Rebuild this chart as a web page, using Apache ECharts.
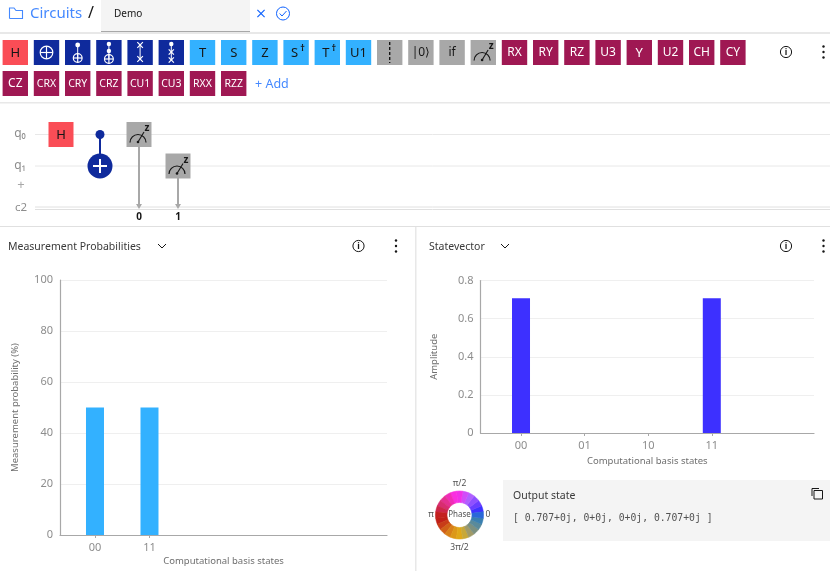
<!DOCTYPE html>
<html>
<head>
<meta charset="utf-8">
<style>
  html, body { margin: 0; padding: 0; background: #fff; }
  #chart { width: 830px; height: 571px; }
</style>
<script src="https://cdn.jsdelivr.net/npm/echarts@6/dist/echarts.min.js"></script>
</head>
<body>
<div id="chart"></div>
<script>
// chart values
const probStates = ['00', '11'];
const probIndex = [0, 1];
const probValues = [50, 50];
const ampStates = ['00', '01', '10', '11'];
const ampIndex = [0, 1, 2, 3];
const ampValues = [0.707, 0, 0, 0.707];
const outputState = '[ 0.707+0j, 0+0j, 0+0j, 0.707+0j ]';

// toolbar gates, text ones are drawn as labels, the rest get a glyph below
const row1Gates = ['H', 'cx', 'ccx', 'c3x', 'swap', 'cswap', 'T', 'S', 'Z', 'S†', 'T†', 'U1', 'barrier', '|0⟩', 'if', 'measure', 'RX', 'RY', 'RZ', 'U3', 'Y', 'U2', 'CH', 'CY'];
const row2Gates = ['CZ', 'CRX', 'CRY', 'CRZ', 'CU1', 'CU3', 'RXX', 'RZZ'];
const redGates = ['H'];
const blueGates = ['cx', 'ccx', 'c3x', 'swap', 'cswap'];
const cyanGates = ['T', 'S', 'Z', 'S†', 'T†', 'U1'];
const grayGates = ['barrier', '|0⟩', 'if', 'measure'];

// phase wheel colours, counter clockwise from phase 0
const phaseColors = ['#3d33ff', '#6a3dff', '#8f50ff', '#b060ff', '#d04cf8', '#f030e8', '#fa2ee0', '#f02cb8', '#e43090', '#d82c70', '#cc2648', '#c42020',
  '#c02018', '#c83c18', '#d06018', '#d88018', '#dc9818', '#e0a818', '#c8a838', '#a09a68', '#7c9080', '#5a8a9a', '#3a80b0', '#2a68d8'];

const font = '"Noto Sans", sans-serif';
const RED = '#fa4d56', BLUE = '#0f2a9c', CYAN = '#33b1ff', GRAY = '#a8a8a8', MAGENTA = '#9f1853', LINK = '#4589ff';

function rect (x, y, w, h, fill) {
  return { type: 'rect', shape: { x, y, width: w, height: h }, style: { fill } };
}
function line (x1, y1, x2, y2, stroke, lineWidth) {
  return { type: 'line', shape: { x1, y1, x2, y2 }, style: { stroke, lineWidth: lineWidth || 1 } };
}
function dot (cx, cy, r, fill) {
  return { type: 'circle', shape: { cx, cy, r }, style: { fill } };
}
function ring (cx, cy, r, stroke, lineWidth) {
  return { type: 'circle', shape: { cx, cy, r }, style: { fill: 'none', stroke, lineWidth: lineWidth || 1 } };
}
function label (x, y, text, size, fill, opts) {
  return {
    type: 'text', x, y,
    style: Object.assign({ text, fontSize: size, fill, fontFamily: font, align: 'center', verticalAlign: 'middle' }, opts || {})
  };
}

function oplus (cx, cy, r, color) {
  return [ring(cx, cy, r, color, 1.2), line(cx - r, cy, cx + r, cy, color, 1.2), line(cx, cy - r, cx, cy + r, color, 1.2)];
}
function cross (cx, cy, r, color) {
  return [line(cx - r, cy - r, cx + r, cy + r, color, 1.2), line(cx - r, cy + r, cx + r, cy - r, color, 1.2)];
}
function gauge (x, y) {
  // x, y is the top left of a 25px gate box
  return [
    { type: 'arc', shape: { cx: x + 11.5, cy: y + 20.5, r: 8, startAngle: Math.PI, endAngle: Math.PI * 2, clockwise: true }, style: { fill: 'none', stroke: '#161616', lineWidth: 1.2 } },
    line(x + 11.5, y + 20, x + 17.5, y + 10, '#161616', 1.1),
    dot(x + 11.5, y + 20, 1.3, '#161616'),
    label(x + 20.5, y + 6.5, 'z', 10, '#161616', { fontWeight: 'bold' })
  ];
}

function gateColor (name) {
  if (redGates.includes(name)) return RED;
  if (blueGates.includes(name)) return BLUE;
  if (cyanGates.includes(name)) return CYAN;
  if (grayGates.includes(name)) return GRAY;
  return MAGENTA;
}

function gate (name, x, y) {
  const cx = x + 12.7, cy = y + 12.5;
  const out = [rect(x, y, 25.4, 25, gateColor(name))];
  if (name === 'cx') out.push(...oplus(cx, cy, 6.3, '#fff'));
  else if (name === 'ccx') out.push(line(cx, y + 5, cx, y + 18, '#fff'), dot(cx, y + 5, 2.4, '#fff'), ...oplus(cx, y + 18, 4.4, '#fff'));
  else if (name === 'c3x') out.push(line(cx, y + 4, cx, y + 19, '#fff'), dot(cx, y + 4, 2.2, '#fff'), dot(cx, y + 11, 2.2, '#fff'), ...oplus(cx, y + 19, 4.4, '#fff'));
  else if (name === 'swap') out.push(line(cx, y + 5, cx, y + 19, '#fff'), ...cross(cx, y + 5, 2.8, '#fff'), ...cross(cx, y + 19, 2.8, '#fff'));
  else if (name === 'cswap') out.push(line(cx, y + 4, cx, y + 20, '#fff'), dot(cx, y + 4, 2.2, '#fff'), ...cross(cx, y + 12, 2.6, '#fff'), ...cross(cx, y + 20, 2.6, '#fff'));
  else if (name === 'barrier') out.push({ type: 'line', shape: { x1: cx, y1: y + 2, x2: cx, y2: y + 23 }, style: { stroke: '#161616', lineWidth: 1.4, lineDash: [3, 2] } });
  else if (name === 'measure') out.push(...gauge(x, y));
  else if (name === 'S†' || name === 'T†') {
    out.push(label(cx - 1.5, cy + 0.5, name[0], 13, '#161616'), label(cx + 6.5, cy - 4.5, '†', 9, '#161616', { fontWeight: 'bold' }));
  } else {
    const dark = redGates.includes(name) || cyanGates.includes(name) || grayGates.includes(name);
    let size = name.length > 2 && name !== '|0⟩' ? 10.5 : (name.length === 2 && !dark ? 12 : 13);
    if (name === 'if') size = 12;
    if (name === '|0⟩') size = 12;
    out.push(label(cx, cy + 0.5, name, size, dark ? '#161616' : '#fff'));
  }
  return out;
}

function infoIcon (cx, cy) {
  return [ring(cx, cy, 5.6, '#161616', 1), label(cx, cy + 0.5, 'i', 8.5, '#161616', { fontWeight: 'bold' })];
}
function kebab (cx, cy) {
  return [dot(cx, cy - 5.5, 1.2, '#161616'), dot(cx, cy, 1.2, '#161616'), dot(cx, cy + 5.5, 1.2, '#161616')];
}
function chevron (cx, cy) {
  return { type: 'polyline', shape: { points: [[cx - 4, cy - 2], [cx, cy + 2], [cx + 4, cy - 2]] }, style: { fill: 'none', stroke: '#161616', lineWidth: 1 } };
}

const pageItems = [
  // header
  rect(0, 32, 830, 2, '#e8e8e8'),
  rect(101, 0, 149, 31, '#f4f4f4'),
  rect(101, 31, 149, 1, '#a8a8a8'),
  { type: 'polyline', shape: { points: [[9.5, 18.5], [9.5, 8], [14, 8], [16, 10.5], [22.5, 10.5], [22.5, 18.5], [9.5, 18.5]] }, style: { fill: 'none', stroke: LINK, lineWidth: 1.1 } },
  label(30, 13.5, 'Circuits', 15, LINK, { align: 'left' }),
  label(91, 13.5, '/', 16, '#161616'),
  label(114, 14, 'Demo', 10, '#161616', { align: 'left' }),
  ...cross(261, 13.5, 3.6, '#0f62fe'),
  ring(283, 13.5, 6.5, '#0f62fe', 1),
  { type: 'polyline', shape: { points: [[279.7, 13.5], [282, 16], [286.5, 11]] }, style: { fill: 'none', stroke: '#0f62fe', lineWidth: 1 } },

  // toolbar
  rect(0, 102, 830, 1.5, '#e8e8e8'),
  ...row1Gates.flatMap((g, i) => gate(g, 2.6 + i * 31.2, 40)),
  ...row2Gates.flatMap((g, i) => gate(g, 2.6 + i * 31.2, 71)),
  label(255, 84, '+ Add', 12.5, LINK, { align: 'left' }),
  ...infoIcon(786, 52),
  ...kebab(823.5, 52),

  // circuit
  line(35, 134.5, 830, 134.5, '#e8e8e8'),
  line(35, 166, 830, 166, '#e8e8e8'),
  line(35, 207, 830, 207, '#e0e0e0'),
  line(35, 209.5, 830, 209.5, '#e0e0e0'),
  label(20, 134, 'q₀', 12, '#8d8d8d'),
  label(20, 165.5, 'q₁', 12, '#8d8d8d'),
  label(21, 185, '+', 13, '#a8a8a8'),
  label(21, 207.5, 'c2', 11.5, '#8d8d8d'),
  rect(48.5, 122, 25, 25, RED),
  label(61, 135, 'H', 13, '#161616'),
  line(100, 134.5, 100, 166, BLUE, 2),
  dot(100, 134.5, 4.5, BLUE),
  dot(100, 166, 12.5, BLUE),
  line(93, 166, 107, 166, '#fff', 2),
  line(100, 159, 100, 173, '#fff', 2),
  line(139, 147, 139, 206, GRAY, 2),
  line(178, 178, 178, 206, GRAY, 2),
  { type: 'polygon', shape: { points: [[136, 204], [142, 204], [139, 209]] }, style: { fill: GRAY } },
  { type: 'polygon', shape: { points: [[175, 204], [181, 204], [178, 209]] }, style: { fill: GRAY } },
  rect(126.5, 122, 25, 25, GRAY),
  ...gauge(126.5, 122),
  rect(165.5, 153.5, 25, 25, GRAY),
  ...gauge(165.5, 153.5),
  label(139, 217, '0', 10, '#161616', { fontWeight: 'bold' }),
  label(178, 217, '1', 10, '#161616', { fontWeight: 'bold' }),
  rect(0, 226, 830, 1, '#e0e0e0'),
  rect(415, 227, 1.5, 344, '#e8e8e8'),

  // panel headers
  label(8, 247, 'Measurement Probabilities', 10.5, '#393939', { align: 'left' }),
  chevron(162, 246),
  ...infoIcon(358.5, 246),
  ...kebab(396, 246),
  label(429, 247, 'Statevector', 10.5, '#393939', { align: 'left' }),
  chevron(505, 246),
  ...infoIcon(786, 246),
  ...kebab(823.5, 246),

  // output state
  rect(503, 480, 327, 61, '#f4f4f4'),
  label(513, 496.5, 'Output state', 10.5, '#393939', { align: 'left' }),
  label(513, 518.5, outputState, 9.75, '#525252', { align: 'left', fontFamily: '"DejaVu Sans Mono", monospace' }),
  { type: 'polyline', shape: { points: [[812, 496], [812, 488.5], [819, 488.5]] }, style: { fill: 'none', stroke: '#161616', lineWidth: 1 } },
  { type: 'rect', shape: { x: 814, y: 490.5, width: 8.5, height: 8.5 }, style: { fill: 'none', stroke: '#161616', lineWidth: 1 } },

  // phase wheel labels
  label(459.5, 483.5, 'π/2', 8.5, '#525252'),
  label(459.5, 548, '3π/2', 8.5, '#525252'),
  label(431, 515, 'π', 8.5, '#525252'),
  label(488, 515, '0', 8.5, '#525252'),
  { type: 'text', z: 20, x: 459.5, y: 515, style: { text: 'Phase', fontSize: 8, fill: '#525252', fontFamily: font, align: 'center', verticalAlign: 'middle' } }
];

function barSeries (index, values, color) {
  return {
    type: 'bar',
    barWidth: 18,
    itemStyle: { color },
    silent: true,
    data: index.map((x, i) => [x, values[i]])
  };
}

const axisText = { color: '#8d8d8d', fontSize: 11, fontFamily: font };
const nameText = { color: '#6f6f6f', fontSize: 9.5, fontFamily: font };
const axisLine = { show: true, onZero: false, lineStyle: { color: '#a8a8a8', width: 1.2 } };
const splitLine = { show: true, lineStyle: { color: '#efefef', width: 1 } };

const myChart = echarts.init(document.getElementById('chart'));
myChart.setOption({
  animation: false,
  backgroundColor: '#fff',
  grid: [
    { left: 60, top: 280, width: 327, height: 255 },
    { left: 480.5, top: 280.5, width: 333.5, height: 152.5 }
  ],
  xAxis: [
    {
      gridIndex: 0, type: 'value', min: -0.642, max: 5.358,
      splitLine: { show: false }, axisLine,
      axisTick: { show: true, length: 3, lineStyle: { color: '#a8a8a8' }, customValues: probIndex },
      axisLabel: Object.assign({ margin: 7, customValues: probIndex, formatter: v => probStates[v] }, axisText),
      name: 'Computational basis states', nameLocation: 'middle', nameGap: 21,
      nameTextStyle: nameText
    },
    {
      gridIndex: 1, type: 'value', min: -0.637, max: 4.607,
      splitLine: { show: false }, axisLine,
      axisTick: { show: true, length: 3, lineStyle: { color: '#a8a8a8' }, customValues: ampIndex },
      axisLabel: Object.assign({ margin: 7, customValues: ampIndex, formatter: v => ampStates[v] }, axisText),
      name: 'Computational basis states', nameLocation: 'middle', nameGap: 23,
      nameTextStyle: nameText
    }
  ],
  yAxis: [
    {
      gridIndex: 0, type: 'value', min: 0, max: 100, interval: 20,
      axisLine, axisTick: { show: false }, splitLine,
      axisLabel: Object.assign({ margin: 7 }, axisText),
      name: 'Measurement probability (%)', nameLocation: 'middle', nameGap: 40,
      nameTextStyle: nameText
    },
    {
      gridIndex: 1, type: 'value', min: 0, max: 0.8, interval: 0.2,
      axisLine, axisTick: { show: false }, splitLine,
      axisLabel: Object.assign({ margin: 7 }, axisText),
      name: 'Amplitude', nameLocation: 'middle', nameGap: 41,
      nameTextStyle: nameText
    }
  ],
  series: [
    Object.assign(barSeries(probIndex, probValues, CYAN), { xAxisIndex: 0, yAxisIndex: 0 }),
    Object.assign(barSeries(ampIndex, ampValues, '#3d30ff'), { xAxisIndex: 1, yAxisIndex: 1 }),
    {
      type: 'pie',
      center: [459.5, 515],
      radius: [12.5, 24],
      startAngle: 7.5,
      clockwise: false,
      silent: true,
      label: { show: false },
      labelLine: { show: false },
      data: phaseColors.map(c => ({ value: 1, itemStyle: { color: c, borderColor: c, borderWidth: 0.6 } }))
    }
  ],
  graphic: pageItems
});
</script>
</body>
</html>
